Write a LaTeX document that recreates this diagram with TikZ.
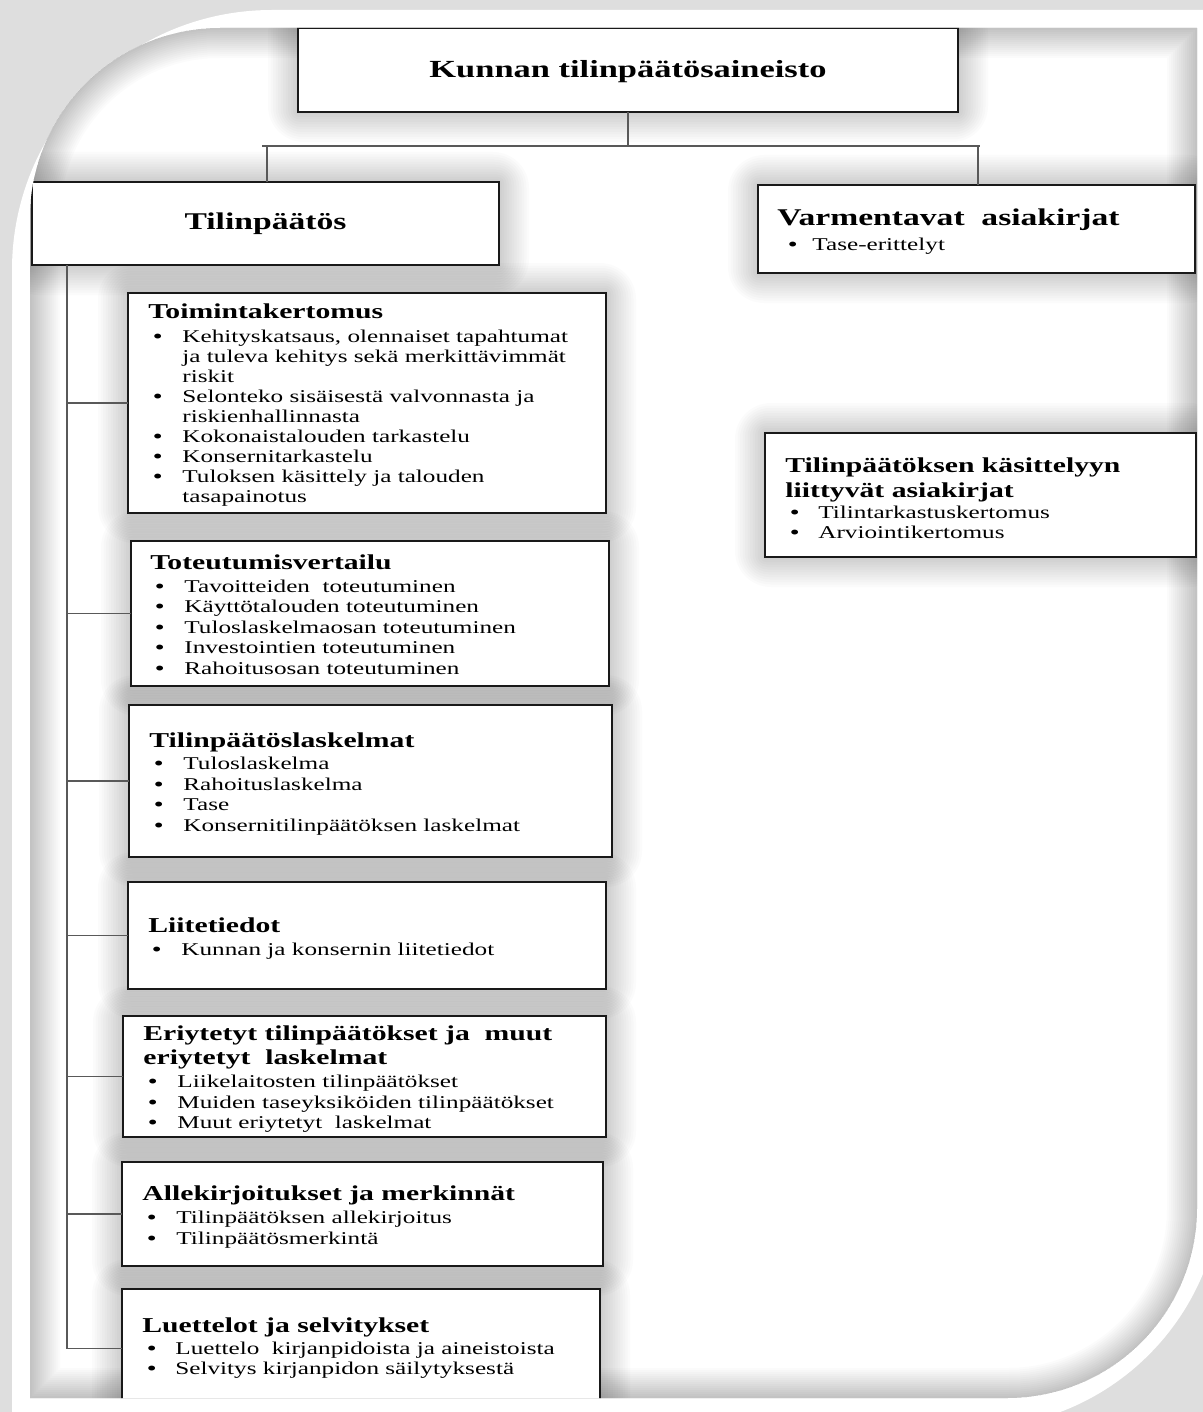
\documentclass[tikz,border=0pt]{standalone}
\usepackage{fontspec}
\setmainfont[FakeStretch=1.4]{Liberation Serif}
\usetikzlibrary{calc}
\pgfdeclarelayer{bg}
\pgfsetlayers{bg,main}
\newcounter{tn}
\newcommand\innershape[1]{\path[#1] (30,1398) -- (30,218) arc[start angle=180,end angle=270,radius=190] -- (1197,28) -- (1197,1208) arc[start angle=0,end angle=90,radius=190] -- cycle;}
\newcommand\mkbox[5]{\node[box, minimum width={(#4-#2)*0.5pt}, minimum height={(#5-#3)*0.5pt}] (#1) at ({(#2+#4)/2},{(#3+#5)/2}) {};}
\newcommand\hdl[3]{\stepcounter{tn}\node[hd] (h\arabic{tn}) at (#1,#2) {#3};}
\newcommand\hdr[3]{\stepcounter{tn}\node[hd,font=\fontsize{12}{14}\selectfont\bfseries] (h\arabic{tn}) at (#1,#2) {#3};}
\newcommand\bli[4]{\stepcounter{tn}\node[bd] (d\arabic{tn}) at (#1,#3) {\bfseries\textbullet}; \node[bd] (t\arabic{tn}) at (#2,#3) {#4};}
\newcommand\cli[3]{\stepcounter{tn}\node[bd] (t\arabic{tn}) at (#1,#2) {#3};}
\begin{document}
\begin{tikzpicture}[x=0.5pt,y=-0.5pt,
  box/.style={draw=black!90,line width=1.1pt,fill=white,inner sep=0pt,outer sep=0pt},
  conn/.style={draw=black!65,line width=0.65pt},
  hd/.style={anchor=base west,inner sep=0pt,font=\fontsize{10.6}{12}\selectfont\bfseries},
  bd/.style={anchor=base west,inner sep=0pt,font=\fontsize{9}{10}\selectfont},
  big/.style={inner sep=0pt,font=\fontsize{12.3}{14}\selectfont\bfseries}]
\useasboundingbox (0,0) rectangle (1203,1412);

\begin{scope}
\innershape{clip}
% boxes
\mkbox{title}{298}{28}{958}{112}
\mkbox{tp}{32}{182}{499}{265}
\mkbox{varm}{758}{185}{1195}{273}
\mkbox{kas}{765}{433}{1196}{557}
\mkbox{b1}{128}{293}{606}{513}
\mkbox{b2}{131}{541}{609}{686}
\mkbox{b3}{129}{705}{612}{857}
\mkbox{b4}{128}{882}{606}{989}
\mkbox{b5}{123}{1016}{606}{1137}
\mkbox{b6}{122}{1162}{603}{1266}
\mkbox{b7}{122}{1289}{600}{1408}

% connectors
\coordinate (busL) at (262,146);
\coordinate (busR) at (980,146);
\coordinate (lj) at (267,146);
\coordinate (rj) at (978,146);
\coordinate (sp) at (67,0);
\draw[conn] (title.south) -- (title.south |- busL);
\draw[conn] (busL) -- (busR);
\draw[conn] (lj) -- (lj |- tp.north);
\draw[conn] (rj) -- (rj |- varm.north);
\draw[conn] (sp |- tp.south) -- (sp |- b7.west);
\foreach \b in {b1,b2,b3,b4,b5,b6,b7} {\draw[conn] (sp |- \b.west) -- (\b.west);}

% texts
\node[big] (titletext) at ($(title.center)+(0,2)$) {Kunnan tilinpäätösaineisto};
\node[big,font=\fontsize{12}{14}\selectfont\bfseries] (tptext) at ($(tp.center)+(0,0)$) {Tilinpäätös};

\hdr{777}{226}{Varmentavat\ \ asiakirjat}
\bli{788}{812}{250}{Tase-erittelyt}

\hdl{785}{472}{Tilinpäätöksen käsittelyyn}
\hdl{785}{497}{liittyvät asiakirjat}
\bli{790}{818}{518}{Tilintarkastuskertomus}
\bli{790}{818}{538}{Arviointikertomus}

\hdl{148}{318}{Toimintakertomus}
\bli{153}{182}{342}{Kehityskatsaus, olennaiset tapahtumat}
\cli{182}{362}{ja tuleva kehitys sekä merkittävimmät}
\cli{182}{382}{riskit}
\bli{153}{182}{402}{Selonteko sisäisestä valvonnasta ja}
\cli{182}{422}{riskienhallinnasta}
\bli{153}{182}{442}{Kokonaistalouden tarkastelu}
\bli{153}{182}{462}{Konsernitarkastelu}
\bli{153}{182}{482}{Tuloksen käsittely ja talouden}
\cli{182}{502}{tasapainotus}

\hdl{150}{569}{Toteutumisvertailu}
\bli{155}{184}{592}{Tavoitteiden\ \ toteutuminen}
\bli{155}{184}{612.5}{Käyttötalouden toteutuminen}
\bli{155}{184}{633}{Tuloslaskelmaosan toteutuminen}
\bli{155}{184}{653.5}{Investointien toteutuminen}
\bli{155}{184}{674}{Rahoitusosan toteutuminen}

\hdl{149}{747}{Tilinpäätöslaskelmat}
\bli{154}{183}{769}{Tuloslaskelma}
\bli{154}{183}{790}{Rahoituslaskelma}
\bli{154}{183}{810}{Tase}
\bli{154}{183}{831}{Konsernitilinpäätöksen laskelmat}

\hdl{148}{932}{Liitetiedot}
\bli{152}{181}{955}{Kunnan ja konsernin liitetiedot}

\hdl{143}{1040}{Eriytetyt tilinpäätökset ja\ \ muut}
\hdl{143}{1064}{eriytetyt\ \ laskelmat}
\bli{148}{177}{1087}{Liikelaitosten tilinpäätökset}
\bli{148}{177}{1108}{Muiden taseyksiköiden tilinpäätökset}
\bli{148}{177}{1128}{Muut eriytetyt\ \ laskelmat}

\hdl{142}{1200}{Allekirjoitukset ja merkinnät}
\bli{147}{176}{1223}{Tilinpäätöksen allekirjoitus}
\bli{147}{176}{1244}{Tilinpäätösmerkintä}

\hdl{142}{1332}{Luettelot ja selvitykset}
\bli{147}{175}{1354}{Luettelo\ \ kirjanpidoista ja aineistoista}
\bli{147}{175}{1374}{Selvitys kirjanpidon säilytyksestä}
\end{scope}

% frame and shadows
\begin{pgfonlayer}{bg}
\fill[black!13] (0,0) rectangle (1203,1412);
\fill[white] (12,1428) -- (12,270) arc[start angle=180,end angle=270,radius=260] -- (1222,10) -- (1222,1178) arc[start angle=0,end angle=90,radius=250] -- cycle;
\innershape{fill=white}
\begin{scope}
\innershape{clip}
\foreach \w in {4,8,...,60} {\innershape{draw=black,opacity=0.016,line width=\w*0.5pt}}
\foreach \n in {title,tp,varm,kas,b1,b2,b3,b4,b5,b6,b7} {
  \foreach \d in {2.5,5,...,30} {
    \fill[black,opacity=0.014,rounded corners=\d*0.6pt] ($(\n.north west)+(-\d,-\d)$) rectangle ($(\n.south east)+(\d,\d)$);
  }
}
\end{scope}
\end{pgfonlayer}
\end{tikzpicture}
\end{document}
